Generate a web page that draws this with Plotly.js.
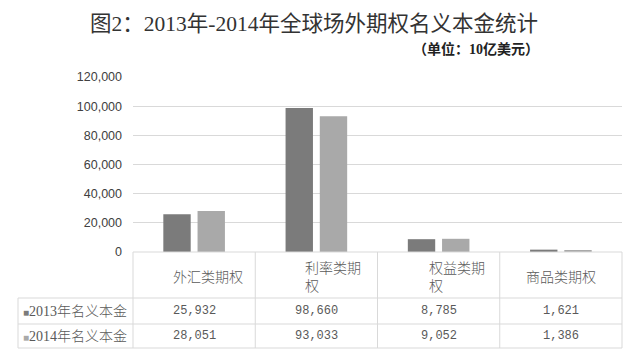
<!DOCTYPE html>
<html>
<head>
<meta charset="utf-8">
<script src="https://cdn.plot.ly/plotly-3.0.1.min.js"></script>
<style>html,body{margin:0;padding:0;background:#fff;}#chart{width:640px;height:356px;}</style>
</head>
<body>
<div id="chart"></div>
<script>
// ---- data ----
const categories = ['外汇类期权', '利率类期权', '权益类期权', '商品类期权'];
const headerLabels = ['外汇类期权', '利率类期<br>权', '权益类期<br>权', '商品类期权'];
const seriesNames = ['2013年名义本金', '2014年名义本金'];
const values2013 = [25932, 98660, 8785, 1621];
const values2014 = [28051, 93033, 9052, 1386];
const yTickValues = [0, 20000, 40000, 60000, 80000, 100000, 120000];
const titleText = '图2：2013年-2014年全球场外期权名义本金统计';
const subtitleText = '（单位：10亿美元）';

// ---- style ----
const colors = ['#7b7b7b', '#a9a9a9'];
const gridColor = '#d9d9d9';
const textColor = '#595959';
const cjk = 'Noto Sans CJK SC';
const W = 640, H = 356;
const M = {l: 133, r: 18, t: 77, b: 104};
const plotH = H - M.t - M.b;
const plotW = W - M.l - M.r;
const py = p => (H - M.b - p) / plotH;     // pixel row -> paper y
const px = p => (p - M.l) / plotW;         // pixel col -> paper x
const headerXShift = [14, 17, 18, 0];

const traces = [values2013, values2014].map((vals, i) => ({
  type: 'bar',
  name: seriesNames[i],
  x: categories,
  y: vals,
  marker: {color: colors[i], line: {width: 0}},
  hoverinfo: 'skip'
}));

const shapes = [];
const line = (x0, y0, x1, y1) => shapes.push({
  type: 'line', xref: 'paper', yref: 'paper', x0, y0, x1, y1,
  line: {color: gridColor, width: 1}
});
// horizontal table lines
line(0, py(252), 1, py(252));
[298, 324, 348].forEach(r => line(px(18), py(r), 1, py(r)));
// vertical table lines
for (let k = 0; k <= categories.length; k++) {
  const xx = k / categories.length;
  line(xx, py(252), xx, py(348));
}
line(px(18), py(298), px(18), py(348));

const annotations = [];
// header labels
headerLabels.forEach((lab, i) => annotations.push({
  xref: 'x', yref: 'paper', x: categories[i], y: py(276), xshift: headerXShift[i],
  text: lab, showarrow: false, align: 'left', xanchor: 'center', yanchor: 'middle',
  font: {family: cjk, size: 14, color: textColor, weight: 300}
}));
// row labels & values
const rowY = [311, 336];
[values2013, values2014].forEach((vals, r) => {
  annotations.push({
    xref: 'paper', yref: 'paper', x: px(21), y: py(rowY[r]),
    text: '<span style="font-size:10px;color:' + colors[r] + '">■</span>' + seriesNames[r],
    showarrow: false, xanchor: 'left', yanchor: 'middle',
    font: {family: 'Liberation Serif, ' + cjk, size: 14, color: textColor, weight: 300}
  });
  vals.forEach((v, i) => annotations.push({
    xref: 'x', yref: 'paper', x: categories[i], y: py(rowY[r]),
    text: v.toLocaleString('en-US'), showarrow: false, xanchor: 'center', yanchor: 'middle',
    font: {family: 'Liberation Mono', size: 12, color: textColor}
  }));
});
// subtitle
annotations.push({
  xref: 'paper', yref: 'paper', x: px(541), y: py(48.5), xanchor: 'right', yanchor: 'middle',
  text: '<b>' + subtitleText + '</b>', showarrow: false,
  font: {family: 'Liberation Serif, ' + cjk, size: 14, color: '#222'}
});

const layout = {
  width: W, height: H,
  margin: {l: M.l, r: M.r, t: M.t, b: M.b, pad: 0},
  paper_bgcolor: '#fff', plot_bgcolor: '#fff',
  showlegend: false,
  barmode: 'group', bargap: 0.44, bargroupgap: 0.2,
  title: {
    text: titleText, xref: 'paper', x: px(314), xanchor: 'center',
    yref: 'container', y: 1 - 23 / H, yanchor: 'middle',
    font: {family: 'Liberation Serif, ' + cjk, size: 21.5, color: '#333'}
  },
  xaxis: {
    type: 'category', range: [-0.5, 3.5], showticklabels: false, showgrid: false,
    zeroline: false, showline: false, ticks: '', fixedrange: true
  },
  yaxis: {
    range: [0, 120000], tickvals: yTickValues, tickformat: ',d',
    showgrid: true, gridcolor: gridColor, gridwidth: 1, zeroline: false,
    showline: false, ticks: '', ticklabelstandoff: 10,
    tickfont: {family: 'Liberation Sans', size: 12.5, color: '#404040'}, fixedrange: true
  },
  shapes, annotations
};

Plotly.newPlot('chart', traces, layout, {displayModeBar: false, staticPlot: true});
</script>
</body>
</html>
